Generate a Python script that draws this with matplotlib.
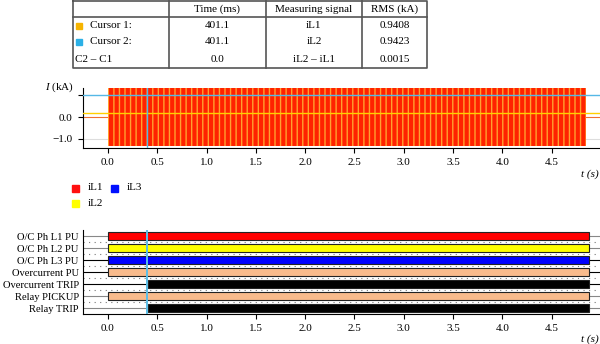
import matplotlib.pyplot as plt
from matplotlib.patches import Rectangle

# 表格数据
header = ["", "Time (ms)", "Measuring signal", "RMS (kA)"]
cursor_names = ["Cursor 1:", "Cursor 2:", "C2 – C1"]
cursor_times = [401.1, 401.1, 0.0]
cursor_signals = ["iL1", "iL2", "iL2 – iL1"]
cursor_rms = [0.9408, 0.9423, 0.0015]
cursor_colors = ["#f6b400", "#2bb0e6", None]

# 模拟量（电流）
sig_start, sig_end = 0.0, 4.85
il_peak = 1.33
il1_pre, il2_pre = 0.0, 0.18
cursor_t = 0.4011
cursor_level = 1.0
grid_level = -1.0

legend_names = ["iL1", "iL2", "iL3"]
legend_colors = ["#ff1010", "#ffff00", "#0010ff"]

# 数字量通道
channels = ["O/C Ph L1 PU", "O/C Ph L2 PU", "O/C Ph L3 PU", "Overcurrent PU",
            "Overcurrent TRIP", "Relay PICKUP", "Relay TRIP"]
ch_on = [0.0, 0.0, 0.0, 0.0, 0.405, 0.0, 0.405]
ch_off = [4.88, 4.88, 4.88, 4.88, 4.88, 4.88, 4.88]
ch_colors = ["#ff0000", "#ffff00", "#0000ff", "#f9bb8c", "#000000", "#f9bb8c", "#000000"]
ch_base = ["#888888", "#888888", "#000000", "#000000", "#000000", "#888888", "#888888"]

xticks = [0.0, 0.5, 1.0, 1.5, 2.0, 2.5, 3.0, 3.5, 4.0, 4.5]

plt.rcParams['font.family'] = ['Liberation Serif', 'DejaVu Serif']
plt.rcParams['font.size'] = 8
plt.rcParams['mathtext.fontset'] = 'custom'
plt.rcParams['mathtext.rm'] = 'Liberation Serif'
plt.rcParams['mathtext.it'] = 'Liberation Serif:italic'
plt.rcParams['hatch.linewidth'] = 1.0

W, H = 600, 344
fig = plt.figure(figsize=(6, 3.44), dpi=100)

# 背景坐标系（像素坐标），用来画表格和图例
bg = fig.add_axes([0, 0, 1, 1])
bg.set_xlim(0, W)
bg.set_ylim(H, 0)
bg.axis('off')

col_x = [73, 169, 266, 362, 427]
row_y = [9, 26, 42, 59]
tc = "#555555"
bg.plot([col_x[0], col_x[-1], col_x[-1], col_x[0], col_x[0]], [1, 1, 68, 68, 1], color=tc, lw=1.2)
bg.plot([col_x[0], col_x[-1]], [17, 17], color=tc, lw=1.2)
for x in col_x[1:-1]:
    bg.plot([x, x], [1, 68], color=tc, lw=1.2)
for j in range(1, 4):
    bg.text((col_x[j] + col_x[j + 1]) / 2, row_y[0], header[j], ha='center', va='center')
for i in range(3):
    y = row_y[i + 1]
    if cursor_colors[i]:
        bg.add_patch(Rectangle((76, y - 3), 6, 6, color=cursor_colors[i]))
        bg.text(90, y, cursor_names[i], ha='left', va='center')
    else:
        bg.text(75, y, cursor_names[i], ha='left', va='center')
    bg.text((col_x[1] + col_x[2]) / 2, y, f"{cursor_times[i]:.1f}", ha='center', va='center')
    bg.text((col_x[2] + col_x[3]) / 2, y, cursor_signals[i], ha='center', va='center')
    bg.text((col_x[3] + col_x[4]) / 2, y, f"{cursor_rms[i]:.4f}", ha='center', va='center')

# 图例
leg_pos = [(72, 188), (72, 203), (111, 188)]
for (x, y), name, c in zip(leg_pos, legend_names, legend_colors):
    bg.add_patch(Rectangle((x, y - 3.5), 7, 7, color=c))
    bg.text(x + 16, y, name, ha='left', va='center')

bg.text(74, 87, r"$I$ (kA)", ha='right', va='center')
bg.text(590, 174, "t (s)", ha='center', va='center', style='italic')
bg.text(590, 339, "t (s)", ha='center', va='center', style='italic')

xlim = (-0.253, 4.99)

# 上图：电流
ax1 = fig.add_axes([83 / W, 1 - 148 / H, 517 / W, 60 / H])
ax1.axhline(grid_level, color='#dddddd', lw=0.8, zorder=1)
ax1.axhline(il1_pre, color='#f07030', lw=0.8, zorder=1)
ax1.fill_between([sig_start, sig_end], -il_peak, il_peak, facecolor='#ff2200',
                 edgecolor='#ffa030', hatch='|||', lw=0, zorder=2)
ax1.axhline(il2_pre, color='#ffd000', lw=1.0, zorder=3)
ax1.axhline(cursor_level, color='#55b8e6', lw=1.0, zorder=3)
ax1.axvline(cursor_t, color='#55b8e6', lw=1.0, zorder=4)
ax1.set_xlim(*xlim)
ax1.set_ylim(-1.42, 1.33)
ax1.set_yticks([-1, 0, 1])
ax1.set_yticklabels(['−1.0', '0.0', ''])
ax1.set_xticks(xticks)
ax1.set_xticklabels([f"{t:.1f}" for t in xticks])
ax1.spines['top'].set_visible(False)
ax1.spines['right'].set_visible(False)
ax1.tick_params(length=3.5, width=0.8, pad=4)

# 下图：开关量
ax2 = fig.add_axes([83 / W, 1 - 314 / H, 517 / W, 84 / H])
n = len(channels)
for i in range(n):
    ax2.plot(xlim, [i, i], color=ch_base[i], lw=0.8, zorder=1)
for i in range(n - 1):
    ax2.plot(xlim, [i + 0.5, i + 0.5], color='#777777', lw=0.8, ls=(0, (1, 4)), zorder=1)
widths = [b - a for a, b in zip(ch_on, ch_off)]
ax2.barh(range(n), widths, left=ch_on, height=0.7, color=ch_colors,
         edgecolor='#222222', lw=0.8, zorder=2)
ax2.axvline(cursor_t, color='#5bbfe8', lw=1.4, zorder=3)
ax2.set_xlim(*xlim)
ax2.set_ylim(n - 0.5, -0.5)
ax2.set_yticks(range(n))
ax2.set_yticklabels(channels, fontsize=7.6)
ax2.set_xticks(xticks)
ax2.set_xticklabels([f"{t:.1f}" for t in xticks])
ax2.spines['top'].set_visible(False)
ax2.spines['right'].set_visible(False)
ax2.tick_params(axis='x', length=3.5, width=0.8, pad=4)
ax2.tick_params(axis='y', length=0, pad=3)

fig.savefig('out.png', dpi=100)
